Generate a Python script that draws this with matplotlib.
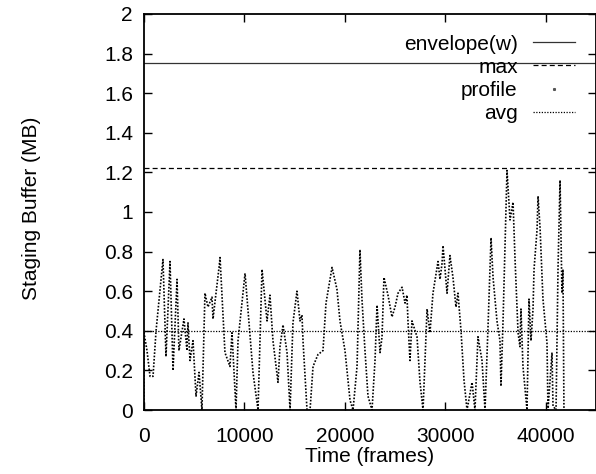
import matplotlib
matplotlib.use("Agg")
import matplotlib.pyplot as plt
from matplotlib.lines import Line2D

# staging buffer profile (frame, MB)
frames = [0, 0, 300, 600, 900, 1200, 1890, 2190, 2590, 2890, 3290, 3480, 3980,
          4280, 4380, 4580, 4880, 5180, 5480, 5770, 6070, 6370, 6770, 6870,
          7470, 7570, 8060, 8560, 8760, 9160, 9360, 10060, 10850, 11350,
          11750, 12250, 12540, 12840, 13340, 13540, 13840, 14240, 14540,
          14830, 15230, 15530, 15730, 15830, 16230, 16530, 16830, 17320,
          17820, 18120, 18720, 19210, 19510, 20010, 20510, 20810, 21210,
          21500, 21700, 22000, 22300, 22700, 23000, 23200, 23500, 23700,
          23890, 24290, 24690, 24990, 25290, 25690, 25990, 26180, 26280,
          26480, 26680, 27180, 27480, 27780, 28180, 28470, 28770, 29270,
          29470, 29670, 29770, 30170, 30460, 30760, 31060, 31260, 31560,
          31860, 32160, 32660, 32950, 33250, 33650, 33950, 34250, 34550,
          34750, 35140, 35440, 35540, 35740, 36140, 36440, 36740, 36940,
          37240, 37430, 37530, 37730, 38130, 38330, 38530, 38730, 38830,
          39130, 39230, 39430, 39720, 40120, 40220, 40620, 40720, 41020,
          41220, 41420, 41610, 41710, 41810]
profile = [0.0, 0.39, 0.30, 0.17, 0.17, 0.40, 0.76, 0.27, 0.75, 0.20, 0.66, 0.30,
           0.46, 0.30, 0.44, 0.25, 0.35, 0.07, 0.19, 0.0, 0.59, 0.52, 0.57,
           0.46, 0.72, 0.77, 0.29, 0.22, 0.39, 0.0, 0.35, 0.69, 0.19, 0.0,
           0.71, 0.45, 0.58, 0.35, 0.14, 0.32, 0.43, 0.29, 0.0, 0.44, 0.60,
           0.45, 0.48, 0.35, 0.0, 0.0, 0.22, 0.28, 0.30, 0.54, 0.72, 0.61,
           0.45, 0.30, 0.05, 0.0, 0.22, 0.81, 0.56, 0.30, 0.07, 0.0, 0.25,
           0.53, 0.29, 0.37, 0.67, 0.58, 0.47, 0.52, 0.59, 0.62, 0.54, 0.58,
           0.45, 0.25, 0.45, 0.37, 0.14, 0.0, 0.51, 0.39, 0.59, 0.75, 0.66,
           0.74, 0.83, 0.59, 0.78, 0.67, 0.52, 0.59, 0.40, 0.15, 0.0, 0.14,
           0.0, 0.37, 0.25, 0.0, 0.42, 0.87, 0.67, 0.45, 0.35, 0.12, 0.44,
           1.21, 0.96, 1.05, 0.76, 0.39, 0.32, 0.51, 0.22, 0.0, 0.56, 0.35,
           0.51, 0.71, 0.91, 1.08, 0.92, 0.56, 0.34, 0.0, 0.29, 0.02, 0.0,
           0.72, 1.16, 0.59, 0.71, 0.0]

envelope_w = 1.75
max_buf = 1.22
avg_buf = 0.40

plt.rcParams['font.family'] = ['Liberation Sans', 'DejaVu Sans']
plt.rcParams['font.size'] = 15

fig = plt.figure(figsize=(5.96, 4.74), dpi=100)
ax = fig.add_axes([0.2416, 0.135, 0.7584, 0.8355])

h_env = ax.axhline(envelope_w, color='#333333', lw=0.9, ls='-', label='envelope(w)')
h_max = ax.axhline(max_buf, color='black', lw=0.9, ls=(0, (4, 2.5)), label='max')
ax.plot(frames, profile, color='black', lw=1.2, ls=(0, (1, 1)))
h_avg = ax.axhline(avg_buf, color='black', lw=0.9, ls=(0, (1, 1.2)), label='avg')
# profile was drawn "with dots" in the original, so the key is a single dot
h_prof = Line2D([], [], ls='none', marker='s', ms=1.2, color='#555555', label='profile')

ax.set_xlim(0, 45000)
ax.set_ylim(0, 2)
ax.set_xticks([0, 10000, 20000, 30000, 40000])
ax.set_yticks([0, 0.2, 0.4, 0.6, 0.8, 1, 1.2, 1.4, 1.6, 1.8, 2])
ax.set_yticklabels(['0', '0.2', '0.4', '0.6', '0.8', '1', '1.2', '1.4', '1.6', '1.8', '2'])
ax.tick_params(direction='in', top=True, right=True, length=6, width=1)
ax.tick_params(axis='y', pad=8)
ax.tick_params(axis='x', pad=12)
for s in ax.spines.values():
    s.set_linewidth(1.3)

ax.set_xlabel('Time (frames)', va='top')
ax.xaxis.set_label_coords(0.5, -0.093)
ax.set_ylabel('Staging Buffer (MB)')
ax.yaxis.set_label_coords(-0.228, 0.51)

leg = ax.legend(handles=[h_env, h_max, h_prof, h_avg],
                loc='upper right', frameon=False, markerfirst=False,
                handlelength=2.0, handletextpad=0.75, labelspacing=0.2,
                borderpad=0, borderaxespad=0, bbox_to_anchor=(0.9535, 0.948))

fig.savefig('out.png', dpi=100)
